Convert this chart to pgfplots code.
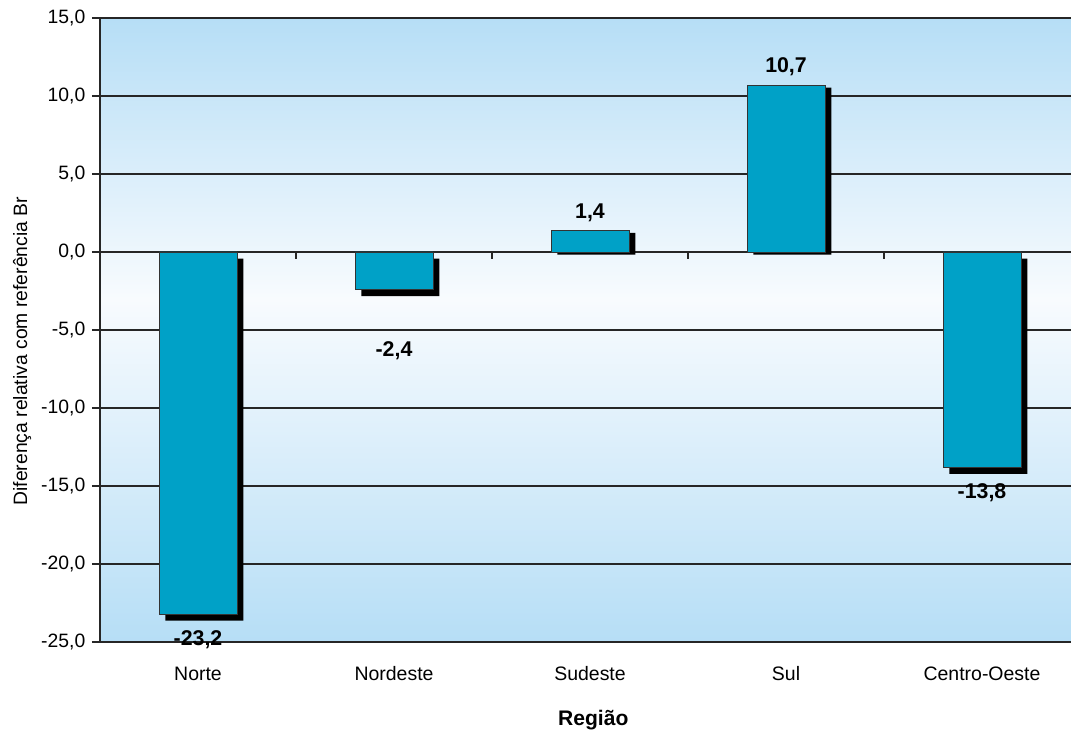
\documentclass[border=0pt]{standalone}
\usepackage{fontspec}
\setmainfont{Liberation Sans}
\usepackage{pgfplots}
\usepackage{pgfplotstable}
\pgfplotsset{compat=1.18}
\definecolor{barblue}{RGB}{0,161,199}
\definecolor{bgblue}{RGB}{182,222,246}
\definecolor{bgwhite}{RGB}{248,251,254}

\pgfplotstableread{
x y
0 -23.2
1 -2.4
2 1.4
3 10.7
4 -13.8
}\bars
\pgfplotstableread{
x y
0 -23.2
1 -2.4
4 -13.8
}\negbars
\pgfplotstableread{
x y
2 1.4
3 10.7
}\posbars
\pgfplotstableread{
x y label
0 -24.85 -23,2
1 -6.3 -2,4
2 2.5 1,4
3 11.9 10,7
4 -15.45 -13,8
}\labels

\begin{document}
\begin{tikzpicture}
\begin{axis}[
  name=ax,
  set layers,
  scale only axis,
  width=728.25pt, height=468pt,
  xmin=-0.5, xmax=4.454,
  ymin=-25, ymax=15,
  axis x line*=bottom,
  axis y line*=left,
  axis line style={black!85, line width=0.8pt},
  xtick={0,1,2,3,4},
  xticklabels={Norte,Nordeste,Sudeste,Sul,Centro-Oeste},
  xtick style={draw=none},
  xticklabel style={anchor=center, yshift=-17.75pt, font=\fontsize{14.6}{17}\selectfont},
  ytick={-25,-20,-15,-10,-5,0,5,10,15},
  yticklabels={{-25,0},{-20,0},{-15,0},{-10,0},{-5,0},{0,0},{5,0},{10,0},{15,0}},
  yticklabel style={font=\fontsize{14.5}{17}\selectfont, xshift=-1.5pt},
  major tick length=6pt,
  tick align=outside,
  ytick style={black!85, line width=0.8pt},
  ymajorgrids,
  grid style={black!85, line width=0.8pt},
  ylabel={Diferença relativa com referência Br},
  ylabel style={at={(axis description cs:-0.0803,0.466)}, anchor=center, font=\fontsize{14.5}{17}\selectfont},
  xlabel={\bfseries Região},
  xlabel style={at={(axis description cs:0.508,0)}, anchor=center, yshift=-58.5pt, font=\fontsize{15.8}{18}\selectfont},
  clip=false,
]
\begin{pgfonlayer}{axis background}
  \fill[top color=bgblue, bottom color=bgwhite] (axis cs:-0.5,15) rectangle (axis cs:4.454,-3);
  \fill[top color=bgwhite, bottom color=bgblue] (axis cs:-0.5,-3) rectangle (axis cs:4.454,-25);
\end{pgfonlayer}
% shadows
\addplot[ybar, bar width=58.5pt, fill=black, draw=none, xshift=4.8pt, yshift=-5pt] table[x=x,y=y] {\negbars};
\addplot[ybar, bar width=58.5pt, fill=black, draw=none, xshift=4.8pt, yshift=-2pt] table[x=x,y=y] {\posbars};
% bars
\addplot[ybar, bar width=58.5pt, fill=barblue, draw=black!80, line width=0.6pt] table[x=x,y=y] {\bars};
% labels
\addplot[draw=none, mark=none, nodes near coords, point meta=explicit symbolic,
  every node near coord/.style={anchor=center, font=\bfseries\fontsize{16}{19}\selectfont, black}]
  table[x=x,y=y,meta=label] {\labels};
% category axis ticks at zero
\pgfplotsinvokeforeach{0.5,1.5,2.5,3.5}{
  \draw[black!85, line width=0.8pt] (axis cs:#1,0) -- ([yshift=-5.25pt]axis cs:#1,0);
}
\end{axis}
\pgfresetboundingbox
\path ([shift={(-75pt,481.5pt)}]ax.south west) rectangle ([shift={(728.25pt,-66.75pt)}]ax.south west);
\end{tikzpicture}
\end{document}
